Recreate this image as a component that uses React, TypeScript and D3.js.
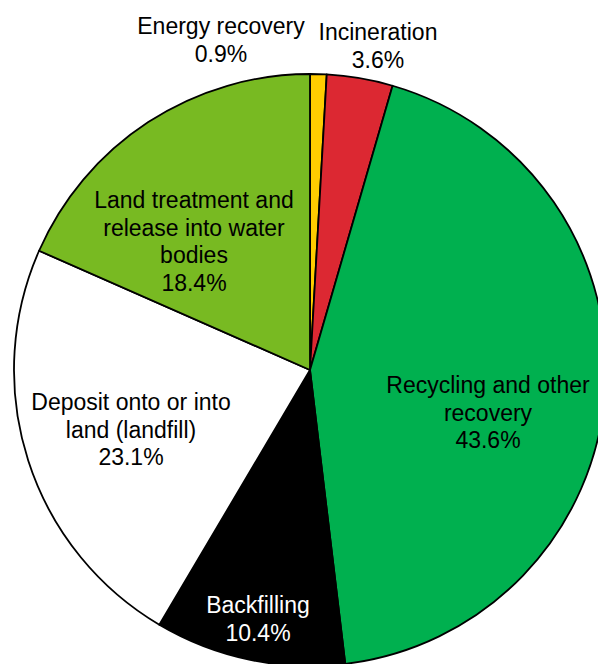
import React from "react";
import * as d3 from "d3";

const categories = [
  "Energy recovery",
  "Incineration",
  "Recycling and other recovery",
  "Backfilling",
  "Deposit onto or into land (landfill)",
  "Land treatment and release into water bodies",
];
const values = [0.9, 3.6, 43.6, 10.4, 23.1, 18.4];
const labelLines = [
  ["Energy recovery", "0.9%"],
  ["Incineration", "3.6%"],
  ["Recycling and other", "recovery", "43.6%"],
  ["Backfilling", "10.4%"],
  ["Deposit onto or into", "land (landfill)", "23.1%"],
  ["Land treatment and", "release into water", "bodies", "18.4%"],
];

const colors = ["#FFCC00", "#DC2832", "#00B04F", "#000000", "#FFFFFF", "#78BA22"];
const textColors = ["#000", "#000", "#000", "#fff", "#000", "#000"];
// label anchor (center x, first line center y) in px
const labelPos: [number, number][] = [
  [221, 26],
  [378, 32],
  [488, 385],
  [258, 605],
  [131, 402],
  [194, 200],
];
const lineGap = 27.5;

export default function App() {
  const W = 598, H = 664;
  const cx = 310, cy = 370, R = 296;
  const pie = d3.pie<number>().sort(null).value((d) => d);
  const arcs = pie(values);
  const arc = d3.arc<d3.PieArcDatum<number>>().innerRadius(0).outerRadius(R);
  return (
    <svg
      width={W}
      height={H}
      style={{ position: "fixed", left: 0, top: 0, background: "#fff" }}
      fontFamily="'Liberation Sans', Arial, sans-serif"
    >
      <g transform={`translate(${cx},${cy})`}>
        {arcs.map((a, i) => (
          <path
            key={categories[i]}
            d={arc(a) || ""}
            fill={colors[i]}
            stroke="#000"
            strokeWidth={1.8}
            strokeLinejoin="round"
          />
        ))}
      </g>
      {labelLines.map((lines, i) => (
        <text
          key={categories[i]}
          textAnchor="middle"
          fontSize={23}
          fill={textColors[i]}
        >
          {lines.map((l, j) => (
            <tspan
              key={j}
              x={labelPos[i][0]}
              y={labelPos[i][1] + j * lineGap}
              dominantBaseline="central"
            >
              {l}
            </tspan>
          ))}
        </text>
      ))}
    </svg>
  );
}
